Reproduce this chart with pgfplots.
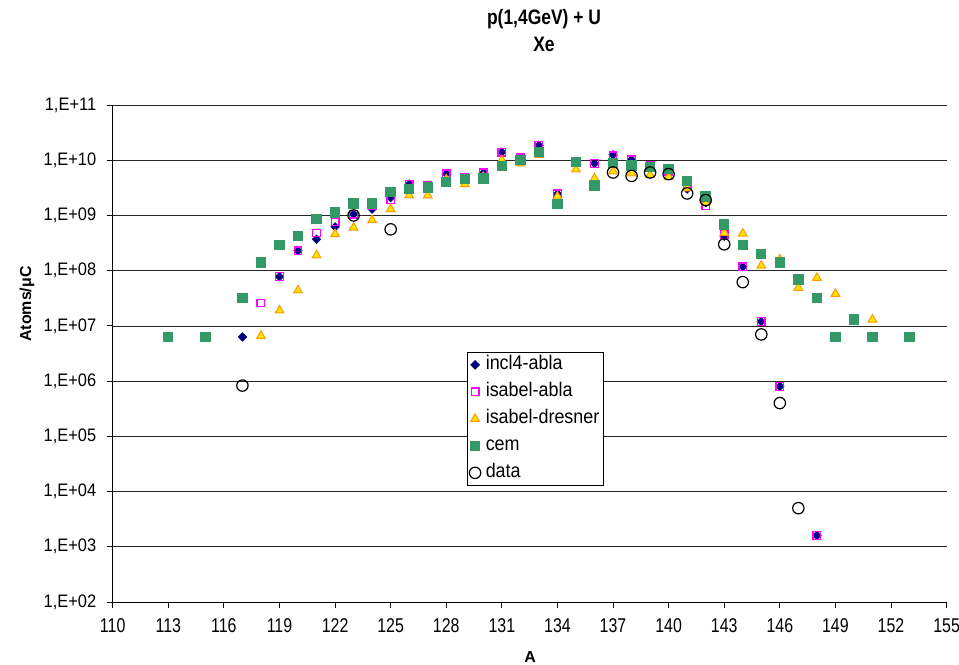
\documentclass[border=0pt]{standalone}
\usepackage{pgfplots}
\pgfplotsset{compat=1.18}
\usepackage{graphicx}
\usepackage{fontspec}
\setmainfont{Liberation Sans}
\definecolor{cemgreen}{RGB}{51,153,102}
\definecolor{inclblue}{RGB}{0,0,128}
\definecolor{triorange}{RGB}{255,153,0}
\definecolor{trifill}{RGB}{255,230,0}
\definecolor{pinkmag}{RGB}{255,0,255}
\newcommand{\xs}[1]{\scalebox{1}[1.25]{#1}}
\newcommand{\ys}[1]{\scalebox{1}[1.1]{#1}}
\begin{document}
\begin{tikzpicture}
\begin{axis}[
  at={(112.7bp,63bp)}, anchor=south west,
  scale only axis, width=833.9bp, height=497bp,
  xmin=110, xmax=155, ymin=1e2, ymax=1e11,
  ymode=log, log basis y=10,
  xtick={110,113,116,119,122,125,128,131,134,137,140,143,146,149,152,155},
  xticklabels={\xs{110},\xs{113},\xs{116},\xs{119},\xs{122},\xs{125},\xs{128},\xs{131},\xs{134},\xs{137},\xs{140},\xs{143},\xs{146},\xs{149},\xs{152},\xs{155}},
  ytick={1e2,1e3,1e4,1e5,1e6,1e7,1e8,1e9,1e10,1e11},
  yticklabels={\ys{1,E+02},\ys{1,E+03},\ys{1,E+04},\ys{1,E+05},\ys{1,E+06},\ys{1,E+07},\ys{1,E+08},\ys{1,E+09},\ys{1,E+10},\ys{1,E+11}},
  yminorticks=false, xminorticks=false,
  axis lines*=left, axis line style={-, black, line width=0.8bp},
  tick align=outside, major tick length=6bp,
  tick style={black, line width=0.8bp},
  ymajorgrids, major grid style={black!85, line width=0.7bp},
  xticklabel style={font=\fontsize{16}{18}\selectfont, yshift=-7bp},
  yticklabel style={font=\fontsize{16.5}{18}\selectfont, xshift=-7bp},
  clip=false,
  legend style={at={(0.4249,0.503)}, anchor=north west, draw=black, line width=0.7bp,
    font=\fontsize{18}{20}\selectfont, inner sep=2bp, row sep=6bp,
    nodes={inner sep=2bp, text height=13bp, text depth=4bp}},
  /tikz/every odd column/.append style={column sep=3bp},
  legend cell align=left,
]
\addplot[only marks, mark=square*, mark size=3.1bp, color=inclblue, mark options={rotate=45, fill=inclblue}] coordinates {
(117,6.3e6) (119,7.8e7) (120,2.3e8) (121,3.7e8) (122,6.2e8) (123,1.05e9) (124,1.3e9)
(125,2.1e9) (126,3.7e9) (127,3.5e9) (128,5.7e9) (129,4.9e9) (130,5.9e9) (131,1.4e10)
(132,1.1e10) (133,1.85e10) (134,2.46e9) (136,8.7e9) (137,1.25e10) (138,1.02e10)
(139,8.0e9) (140,6.5e9) (141,3.0e9) (142,1.7e9) (143,4.2e8) (144,1.18e8) (145,1.2e7)
(146,8.0e5) (148,1.6e3)
};
\addlegendentry{\ys{incl4-abla}}
\addplot[only marks, mark=square, mark size=3.8bp, color=pinkmag, mark options={line width=1.3bp}] coordinates {
(118,2.6e7) (119,7.8e7) (120,2.3e8) (121,4.8e8) (122,7.6e8) (123,1.05e9) (124,1.5e9)
(125,1.95e9) (126,3.7e9) (127,3.5e9) (128,5.7e9) (129,4.9e9) (130,5.9e9) (131,1.4e10)
(132,1.1e10) (133,1.85e10) (134,2.46e9) (136,8.7e9) (137,1.2e10) (138,1.02e10)
(139,8.0e9) (140,6.3e9) (141,3.3e9) (142,1.5e9) (143,4.5e8) (144,1.18e8) (145,1.2e7)
(146,8.0e5) (148,1.6e3)
};
\addlegendentry{\ys{isabel-abla}}
\addplot[only marks, mark=triangle*, mark size=5bp, color=triorange, mark options={fill=trifill, line width=1bp}] coordinates {
(118,6.6e6) (119,1.9e7) (120,4.4e7) (121,1.9e8) (122,4.6e8) (123,6.0e8) (124,8.2e8)
(125,1.3e9) (126,2.3e9) (127,2.3e9) (128,4.5e9) (129,3.7e9) (130,5.0e9) (131,1.0e10)
(132,8.8e9) (133,1.25e10) (134,2.2e9) (135,6.8e9) (136,4.7e9) (137,6.3e9) (138,5.8e9)
(139,5.4e9) (140,5.0e9) (141,3.1e9) (142,1.7e9) (143,4.8e8) (144,4.7e8) (145,1.23e8)
(146,1.6e8) (147,4.9e7) (148,7.4e7) (149,3.8e7) (151,1.3e7)
};
\addlegendentry{\ys{isabel-dresner}}
\addplot[only marks, mark=square*, mark size=4.7bp, color=cemgreen, mark options={fill=cemgreen, draw=cemgreen, line width=0pt}] coordinates {
(113,6.3e6) (115,6.3e6) (117,3.2e7) (118,1.4e8) (119,2.9e8) (120,4.2e8) (121,8.7e8)
(122,1.13e9) (123,1.65e9) (124,1.65e9) (125,2.65e9) (126,3.0e9) (127,3.2e9) (128,4.0e9)
(129,4.6e9) (130,4.7e9) (131,7.9e9) (132,1.0e10) (133,1.4e10) (134,1.6e9) (135,9.4e9)
(136,3.5e9) (137,9.0e9) (138,8.0e9) (139,7.6e9) (140,6.9e9) (141,4.2e9) (142,2.2e9)
(143,6.9e8) (144,2.9e8) (145,2.0e8) (146,1.4e8) (147,6.9e7) (148,3.2e7) (149,6.3e6)
(150,1.3e7) (151,6.3e6) (153,6.3e6)
};
\addlegendentry{\ys{cem}}
\addplot[only marks, mark=o, mark size=5.7bp, color=black, mark options={line width=1.2bp}] coordinates {
(117,8.3e5) (123,1.0e9) (125,5.6e8) (137,6.0e9) (138,5.2e9) (139,6.0e9) (140,5.6e9)
(141,2.5e9) (142,1.9e9) (143,3.0e8) (144,6.2e7) (145,7.0e6) (146,4.0e5) (147,5.0e3)
};
\addlegendentry{\ys{data}}
\end{axis}
\node[font=\bfseries\fontsize{17.5}{20}\selectfont, anchor=base] at (544bp,640bp) {\scalebox{1}[1.2]{p(1,4GeV) + U}};
\node[font=\bfseries\fontsize{17.5}{20}\selectfont, anchor=base] at (544bp,613bp) {\scalebox{1}[1.2]{Xe}};
\node[font=\bfseries\fontsize{16}{18}\selectfont, rotate=90] at (27bp,361bp) {Atoms/μC};
\node[font=\bfseries\fontsize{16}{18}\selectfont, anchor=base, inner sep=0pt] at (530bp,3bp) {A};
\pgfresetboundingbox
\path[use as bounding box] (0,0) rectangle (959bp,665bp);
\end{tikzpicture}
\end{document}
